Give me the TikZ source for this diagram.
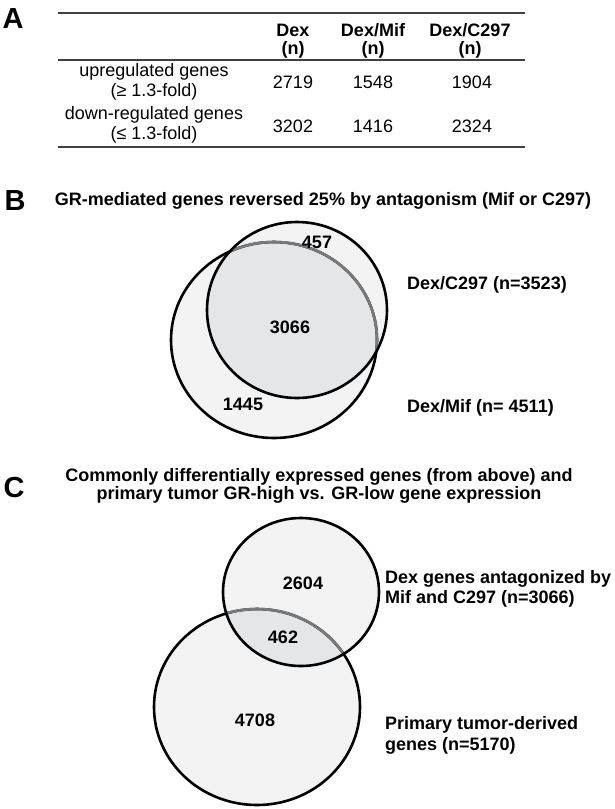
\documentclass[tikz,border=0pt]{standalone}
\usepackage{fontspec}
\setmainfont{Liberation Sans}
\definecolor{lightfill}{HTML}{F3F3F3}
\definecolor{darkfill}{HTML}{E5E6E8}
\definecolor{arcgray}{HTML}{7A7A7A}
\definecolor{rulegray}{HTML}{404040}
\tikzset{
  txt/.style={inner sep=0pt, align=center, font=\fontsize{18}{20}\selectfont},
  bld/.style={inner sep=0pt, align=center, font=\bfseries\fontsize{18}{20}\selectfont},
  side/.style={inner sep=0pt, align=left, anchor=west, font=\bfseries\fontsize{18}{20}\selectfont},
  panel/.style={inner sep=0pt, font=\bfseries\fontsize{29}{30}\selectfont},
  tabrule/.style={draw=rulegray, line width=1.8pt},
  circ/.style={draw=black, line width=2.6pt},
  graycirc/.style={draw=arcgray, line width=2.6pt},
}
\begin{document}
\begin{tikzpicture}[x=1pt,y=-1pt]
\useasboundingbox (0,0) rectangle (615,809);
% ---------- A ----------
\node[panel] (lA) at (13,19) {A};
\coordinate (r1a) at (58,13);  \coordinate (r1b) at (525,13);
\coordinate (r2a) at (58,60);  \coordinate (r2b) at (525,60);
\coordinate (r3a) at (58,147); \coordinate (r3b) at (525,147);
\draw[tabrule] (r1a) -- (r1b);
\draw[tabrule] (r2a) -- (r2b);
\draw[tabrule] (r3a) -- (r3b);
\node[bld, font=\bfseries\fontsize{18}{18}\selectfont] (h1) at (293,41) {Dex\\(n)};
\node[bld, font=\bfseries\fontsize{18}{18}\selectfont] (h2) at (373,41) {Dex/Mif\\(n)};
\node[bld, font=\bfseries\fontsize{18}{18}\selectfont] (h3) at (470,41) {Dex/C297\\(n)};
\node[txt] (rowA) at (154,82) {upregulated genes\\(≥ 1.3-fold)};
\node[txt] (rowB) at (154,125) {down-regulated genes\\(≤ 1.3-fold)};
\node[txt] (a1) at (293,82) {2719};
\node[txt] (a2) at (373,82) {1548};
\node[txt] (a3) at (472,82) {1904};
\node[txt] (b1) at (293,126) {3202};
\node[txt] (b2) at (373,126) {1416};
\node[txt] (b3) at (472,126) {2324};
% ---------- B ----------
\node[panel] (lB) at (15,201) {B};
\node[bld] (tB) at (323,201) {GR-mediated genes reversed 25\% by antagonism (Mif or C297)};
\fill[lightfill] (274,340) ellipse [x radius=103, y radius=98];
\fill[lightfill] (297,310) ellipse [x radius=90, y radius=88];
\begin{scope}
  \clip (297,310) ellipse [x radius=90, y radius=88];
  \fill[darkfill] (274,340) ellipse [x radius=103, y radius=98];
\end{scope}
\draw[circ] (274,340) ellipse [x radius=103, y radius=98];
\begin{scope}
  \clip (297,310) ellipse [x radius=90, y radius=88];
  \draw[graycirc] (274,340) ellipse [x radius=103, y radius=98];
\end{scope}
\draw[circ] (297,310) ellipse [x radius=90, y radius=88];
\node[bld] (n457) at (317,242) {457};
\node[bld] (n3066) at (290,327) {3066};
\node[bld] (n1445) at (243,404) {1445};
\node[side] (sC297) at (407,285) {Dex/C297 (n=3523)};
\node[side] (sMif) at (407,408) {Dex/Mif (n= 4511)};
% ---------- C ----------
\node[panel] (lC) at (14,488) {C};
\node[bld, font=\bfseries\fontsize{18}{18.5}\selectfont] (tC) at (319,486) {Commonly differentially expressed genes (from above) and\\primary tumor GR-high vs. GR-low gene expression};
\fill[lightfill] (257,707) ellipse [x radius=103, y radius=98];
\fill[lightfill] (301,592) ellipse [x radius=78, y radius=74];
\begin{scope}
  \clip (301,592) ellipse [x radius=78, y radius=74];
  \fill[darkfill] (257,707) ellipse [x radius=103, y radius=98];
\end{scope}
\draw[circ] (257,707) ellipse [x radius=103, y radius=98];
\begin{scope}
  \clip (301,592) ellipse [x radius=78, y radius=74];
  \draw[graycirc] (257,707) ellipse [x radius=103, y radius=98];
\end{scope}
\draw[circ] (301,592) ellipse [x radius=78, y radius=74];
\node[bld] (n2604) at (303,583) {2604};
\node[bld] (n462) at (283,637) {462};
\node[bld] (n4708) at (255,720) {4708};
\node[side, font=\bfseries\fontsize{18}{19.5}\selectfont] (sDex) at (385,589) {Dex genes antagonized by\\Mif and C297 (n=3066)};
\node[side, font=\bfseries\fontsize{18}{21}\selectfont] (sPrim) at (385,735) {Primary tumor-derived\\genes (n=5170)};
\end{tikzpicture}
\end{document}
